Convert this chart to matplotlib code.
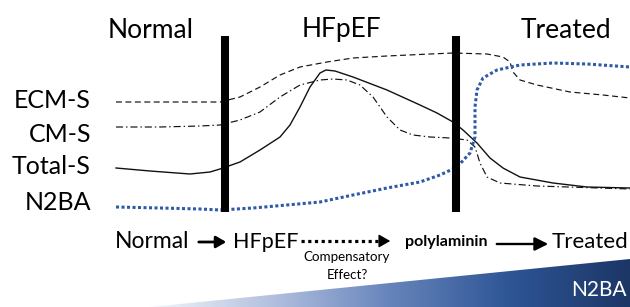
import numpy as np
import matplotlib.pyplot as plt
from matplotlib.patches import Polygon, FancyArrowPatch
from matplotlib.colors import LinearSegmentedColormap

plt.rcParams['font.family'] = ['Lato', 'DejaVu Sans']

# ---------------- data (pixel coords) ----------------
stage_labels = ['Normal', 'HFpEF', 'Treated']
stage_x = [151, 341, 566]
boundary_x = [225, 456]

row_labels = ['ECM-S', 'CM-S', 'Total-S', 'N2BA']
row_y = [101, 134, 167, 202]

ecm_x = [116, 160, 200, 220, 240, 260, 280, 300, 327, 353, 387, 430, 453, 487, 503, 510, 513, 520, 537, 570, 603, 630]
ecm_y = [102, 102, 102, 102, 97, 87, 75, 67, 62, 58, 56, 54, 53, 54, 57, 62, 72, 80, 85, 92, 95, 98]

cm_x = [116, 160, 200, 220, 240, 260, 280, 300, 320, 333, 347, 360, 373, 387, 400, 413, 430, 450,
        467, 475, 480, 487, 500, 537, 630]
cm_y = [127, 127, 126, 125, 120, 112, 97, 85, 80, 79, 80, 85, 97, 117, 130, 135, 137, 138,
        140, 147, 163, 177, 183, 186, 189]

tot_x = [116, 150, 190, 210, 220, 240, 260, 280, 290, 300, 310, 320, 326, 335, 353, 387, 420,
         437, 453, 463, 477, 490, 503, 520, 553, 587, 630]
tot_y = [168, 171, 174, 172, 169, 162, 150, 137, 125, 107, 87, 73, 70, 71, 77, 90, 105,
         113, 122, 130, 143, 158, 168, 177, 183, 187, 188]

n2ba_x = [116, 160, 200, 220, 253, 287, 320, 353, 387, 420, 440, 457, 470, 475, 475, 477,
          483, 497, 520, 553, 587, 630]
n2ba_y = [207, 208, 209, 210, 208, 205, 202, 195, 188, 182, 175, 167, 153, 137, 107, 90,
          78, 70, 65, 63, 64, 67]

flow_labels = ['Normal', 'HFpEF', 'polylaminin', 'Treated']
note_lines = ['Compensatory', 'Effect?']

fig = plt.figure(figsize=(6.30, 3.07), dpi=100)
ax = fig.add_axes([0, 0, 1, 1])
ax.set_xlim(0, 630)
ax.set_ylim(307, 0)
ax.axis('off')

# gradient wedge at the bottom
cmap = LinearSegmentedColormap.from_list('wedge', ['#f4f6fb', '#b3c1df', '#6684bb', '#2e5595', '#1c3666'])
grad = np.linspace(0, 1, 256).reshape(1, -1)
im = ax.imshow(grad, cmap=cmap, extent=[150, 630, 307, 258], aspect='auto', zorder=0)
wedge = Polygon([[150, 307], [630, 259], [630, 307]], closed=True, transform=ax.transData)
im.set_clip_path(wedge)
ax.text(627, 290, 'N2BA', color='white', fontsize=15, ha='right', va='center')

# curves
ax.plot(ecm_x, ecm_y, color='#111111', lw=0.85, ls=(0, (5, 3)))
ax.plot(cm_x, cm_y, color='#111111', lw=0.85, ls=(0, (6, 2.5, 1.2, 2.5)))
ax.plot(tot_x, tot_y, color='#111111', lw=1.0, ls='-')
ax.plot(n2ba_x, n2ba_y, color='#2f5aa5', lw=2.2, ls=(0, (1, 0.8)))

# stage boundaries
for bx in boundary_x:
    ax.plot([bx, bx], [36, 212], color='black', lw=5.8, solid_capstyle='butt')

for lab, sx in zip(stage_labels, stage_x):
    ax.text(sx, 30, lab, fontsize=19, ha='center', va='center')

for lab, ry in zip(row_labels, row_y):
    ax.text(91, ry, lab, fontsize=18, ha='right', va='center')

# flow row
ax.text(152, 242, flow_labels[0], fontsize=16.5, ha='center', va='center')
ax.text(266, 242, flow_labels[1], fontsize=15.5, ha='center', va='center')
ax.text(446, 242, flow_labels[2], fontsize=11.5, fontweight='bold', ha='center', va='center')
ax.text(628, 242, flow_labels[3], fontsize=16, ha='right', va='center')
ax.text(347, 257, note_lines[0], fontsize=9.6, ha='center', va='center')
ax.text(347, 275, note_lines[1], fontsize=9.6, ha='center', va='center')

ax.add_patch(FancyArrowPatch((196, 242), (229, 242), arrowstyle='-|>,head_length=6,head_width=3.5',
                             lw=2, color='black', mutation_scale=1))
# dotted shaft with a solid head
ax.plot([301, 385], [241, 241], color='black', lw=2.3, ls=(0, (1, 1.1)))
ax.add_patch(FancyArrowPatch((384, 241), (393, 241), arrowstyle='-|>,head_length=7,head_width=4',
                             lw=1, color='black', mutation_scale=1))
ax.add_patch(FancyArrowPatch((494, 244), (551, 244), arrowstyle='-|>,head_length=8,head_width=4',
                             lw=1.7, color='black', mutation_scale=1))

fig.savefig('out.png', dpi=100)
